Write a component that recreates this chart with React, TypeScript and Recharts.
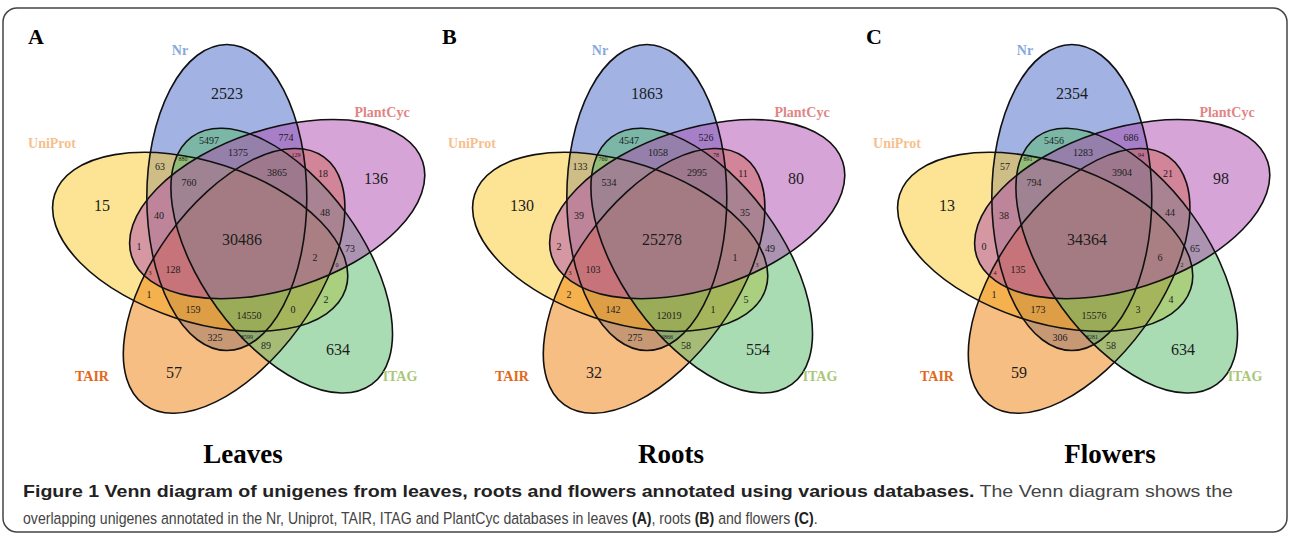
import React from "react";
import { ScatterChart, Scatter, XAxis, YAxis } from "recharts";

// five sets, going clockwise round the flower starting at the top
const setNames = ["Nr", "PlantCyc", "ITAG", "TAIR", "UniProt"];
const setFills = ["#4466c8", "#ad49ad", "#55b969", "#ed7d05", "#fbc929"];
const setLabelColors = ["#86a9de", "#df8585", "#a9c877", "#e2691a", "#f7bf8e"];
// which set is painted first (bottom) to last (top)
const paintOrder = [0, 4, 3, 2, 1];

const panelTitles = ["Leaves", "Roots", "Flowers"];
const panelLetters = ["A", "B", "C"];

// counts per region, same order as regionAnchors below
const leavesCounts = [2523, 5497, 774, 1375, 880, 129, 63, 3865, 18, 760, 136, 15, 40, 48, 30486, 1, 73, 2, 0, 3, 128, 1, 2, 159, 14550, 0, 325, 8599, 89, 634, 57];
const rootsCounts = [1863, 4547, 526, 1058, 760, 78, 133, 2995, 11, 534, 80, 130, 39, 35, 25278, 2, 49, 1, 3, 3, 103, 2, 5, 142, 12019, 1, 275, 6866, 58, 554, 32];
const flowersCounts = [2354, 5456, 686, 1283, 891, 94, 57, 3904, 21, 794, 98, 13, 38, 44, 34364, 0, 65, 6, 2, 4, 135, 1, 4, 173, 15576, 3, 306, 8281, 58, 634, 59];
const panelCounts = [leavesCounts, rootsCounts, flowersCounts];

// layout: where each region's number sits, relative to the flower centre
const regionAnchors: [number, number, "L" | "M" | "S"][] = [
  [-17, -145, "L"], [-35, -98, "M"], [42, -101, "M"], [-6, -86, "M"], [-61, -79, "S"],
  [52, -83, "S"], [-84, -72, "M"], [33, -66, "M"], [79, -65, "M"], [-55, -56, "M"],
  [132, -60, "L"], [-142, -33, "L"], [-85, -23, "M"], [81, -26, "M"], [-2, 1, "L"],
  [-105, 8, "M"], [106, 10, "M"], [71, 19, "M"], [93, 27, "S"], [-94, 35, "S"],
  [-71, 31, "M"], [-95, 56, "M"], [82, 61, "M"], [-51, 71, "M"], [5, 77, "M"],
  [49, 71, "M"], [-29, 99, "M"], [3, 99, "S"], [22, 107, "M"], [94, 111, "L"],
  [-70, 134, "L"],
];
const setLabelAnchors: [number, number][] = [[-64, -188], [138, -126], [156, 138], [-152, 138], [-192, -95]];

const fontSizes = { L: 16, M: 10, S: 6 };

const ELL_MAJOR = 153;
const ELL_MINOR = 80;
const ELL_OFFSET = 44;
const ELL_START = -23;

const CHART_W = 420;
const CHART_H = 400;
const X_DOMAIN: [number, number] = [-234, 186];
const Y_DOMAIN: [number, number] = [-208, 192];
const PX = CHART_W / (X_DOMAIN[1] - X_DOMAIN[0]);
const panelLeft = [10, 430, 855];

const ellipses = paintOrder.map((i) => {
  const t = ((ELL_START + 72 * i) * Math.PI) / 180;
  return {
    x: ELL_OFFSET * Math.sin(t),
    y: -ELL_OFFSET * Math.cos(t),
    rot: 72 * i,
    fill: setFills[i],
  };
});

const EllipseFill = (props: any) => {
  const { cx, cy, payload } = props;
  return (
    <ellipse cx={cx} cy={cy} rx={ELL_MINOR * PX} ry={ELL_MAJOR * PX}
      transform={`rotate(${payload.rot} ${cx} ${cy})`} fill={payload.fill} fillOpacity={0.5} stroke="none" />
  );
};

const EllipseLine = (props: any) => {
  const { cx, cy, payload } = props;
  return (
    <ellipse cx={cx} cy={cy} rx={ELL_MINOR * PX} ry={ELL_MAJOR * PX}
      transform={`rotate(${payload.rot} ${cx} ${cy})`} fill="none" stroke="#111" strokeWidth={1.6} />
  );
};

const CountLabel = (props: any) => {
  const { cx, cy, payload } = props;
  return (
    <text x={cx} y={cy} textAnchor="middle" dominantBaseline="central"
      fontFamily="Liberation Serif" fontSize={fontSizes[payload.size as "L" | "M" | "S"]} fill="#1c1c1c">
      {payload.value}
    </text>
  );
};

const SetLabel = (props: any) => {
  const { cx, cy, payload } = props;
  return (
    <text x={cx} y={cy} textAnchor="middle" dominantBaseline="central"
      fontFamily="Liberation Serif" fontWeight="bold" fontSize={14} fill={payload.color}>
      {payload.name}
    </text>
  );
};

const VennPanel = ({ counts }: { counts: number[] }) => {
  const regions = regionAnchors.map(([x, y, size], i) => ({ x, y, size, value: counts[i] }));
  const labels = setNames.map((name, i) => ({ x: setLabelAnchors[i][0], y: setLabelAnchors[i][1], name, color: setLabelColors[i] }));
  return (
    <ScatterChart width={CHART_W} height={CHART_H} margin={{ top: 0, right: 0, bottom: 0, left: 0 }}>
      <XAxis type="number" dataKey="x" domain={X_DOMAIN} allowDataOverflow hide />
      <YAxis type="number" dataKey="y" domain={Y_DOMAIN} allowDataOverflow reversed hide />
      <Scatter data={ellipses} shape={EllipseFill} isAnimationActive={false} />
      <Scatter data={ellipses} shape={EllipseLine} isAnimationActive={false} />
      <Scatter data={labels} shape={SetLabel} isAnimationActive={false} />
      <Scatter data={regions} shape={CountLabel} isAnimationActive={false} />
    </ScatterChart>
  );
};

const titleX = [243, 671, 1110];
const letterX = [28, 442, 866];

export default function App() {
  return (
    <div style={{ position: "absolute", left: 0, top: 0, width: 1290, height: 537, background: "#fff" }}>
      <svg width={1290} height={537} style={{ position: "absolute", left: 0, top: 0 }}>
        <rect x={3} y={8} width={1284} height={524} rx={14} fill="none" stroke="#444" strokeWidth={1.5} />
        {panelLetters.map((l, i) => (
          <text key={l} x={letterX[i]} y={44} fontFamily="Liberation Serif" fontWeight="bold" fontSize={22} fill="#000">{l}</text>
        ))}
        {panelTitles.map((t, i) => (
          <text key={t} x={titleX[i]} y={463} textAnchor="middle" fontFamily="Liberation Serif" fontWeight="bold" fontSize={27} fill="#000">{t}</text>
        ))}
        <text x={23} y={497} fontFamily="Liberation Sans" fontSize={17} textLength={1210} lengthAdjust="spacingAndGlyphs" fill="#444">
          <tspan fontWeight="bold" fill="#222">Figure 1 Venn diagram of unigenes from leaves, roots and flowers annotated using various databases.</tspan>
          <tspan> The Venn diagram shows the</tspan>
        </text>
        <text transform="translate(23,524) scale(0.83,1)" fontFamily="Liberation Sans" fontSize={17} fill="#444">
          overlapping unigenes annotated in the Nr, Uniprot, TAIR, ITAG and PlantCyc databases in leaves{" "}
          <tspan fontWeight="bold" fill="#222">(A)</tspan>, roots <tspan fontWeight="bold" fill="#222">(B)</tspan> and flowers{" "}
          <tspan fontWeight="bold" fill="#222">(C)</tspan>.
        </text>
      </svg>
      {panelCounts.map((counts, i) => (
        <div key={i} style={{ position: "absolute", left: panelLeft[i], top: 30 }}>
          <VennPanel counts={counts} />
        </div>
      ))}
    </div>
  );
}
